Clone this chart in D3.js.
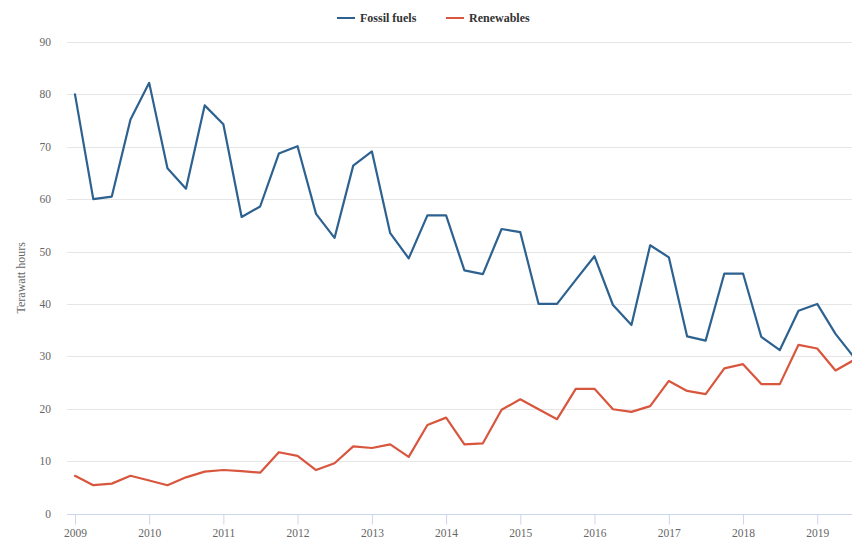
<!DOCTYPE html>
<html>
<head>
<meta charset="utf-8">
<script src="https://cdn.jsdelivr.net/npm/d3@7"></script>
<style>
  html, body { margin: 0; padding: 0; background: #fff; }
  svg { display: block; font-family: "Liberation Serif", "Times New Roman", serif; }
</style>
</head>
<body>
<svg id="chart" width="852" height="538"></svg>
<script>
// Quarterly periods, 2009 Q1 – 2019 Q3
const quarters = [
  "2009-01","2009-04","2009-07","2009-10",
  "2010-01","2010-04","2010-07","2010-10",
  "2011-01","2011-04","2011-07","2011-10",
  "2012-01","2012-04","2012-07","2012-10",
  "2013-01","2013-04","2013-07","2013-10",
  "2014-01","2014-04","2014-07","2014-10",
  "2015-01","2015-04","2015-07","2015-10",
  "2016-01","2016-04","2016-07","2016-10",
  "2017-01","2017-04","2017-07","2017-10",
  "2018-01","2018-04","2018-07","2018-10",
  "2019-01","2019-04","2019-07"
];
const fossilFuels = [
  80.0, 60.0, 60.5, 75.2,
  82.2, 65.9, 62.0, 77.9,
  74.3, 56.6, 58.6, 68.7,
  70.1, 57.2, 52.6, 66.4,
  69.1, 53.5, 48.7, 56.9,
  56.9, 46.4, 45.7, 54.3,
  53.7, 40.0, 40.0, 44.6,
  49.1, 39.8, 36.0, 51.2,
  48.9, 33.8, 33.0, 45.8,
  45.8, 33.7, 31.2, 38.7,
  40.0, 34.3, 29.8
];
const renewables = [
  7.2, 5.4, 5.7, 7.2,
  6.3, 5.4, 6.9, 8.0,
  8.3, 8.1, 7.8, 11.7,
  11.0, 8.3, 9.6, 12.8,
  12.5, 13.2, 10.8, 16.9,
  18.3, 13.2, 13.4, 19.8,
  21.8, 19.9, 18.0, 23.8,
  23.8, 19.9, 19.4, 20.5,
  25.3, 23.4, 22.8, 27.7,
  28.5, 24.7, 24.7, 32.2,
  31.5, 27.3, 29.3
];
const yTicks = [0, 10, 20, 30, 40, 50, 60, 70, 80, 90];
const xTickYears = [2009, 2010, 2011, 2012, 2013, 2014, 2015, 2016, 2017, 2018, 2019];
const seriesNames = ["Fossil fuels", "Renewables"];
const seriesColors = ["#2d6290", "#d9563e"];
const yTitle = "Terawatt hours";

const parse = d3.timeParse("%Y-%m");
const dates = quarters.map(parse);

const svg = d3.select("#chart");
const W = 852, H = 538;
const plot = { left: 67, right: 852, top: 42, bottom: 513.5 };

const x = d3.scaleTime()
  .domain([new Date(2009, 0, 1), new Date(2019, 6, 1)])
  .range([75, 854]);
const y = d3.scaleLinear().domain([0, 90]).range([plot.bottom, plot.top]);

// gridlines
svg.append("g").selectAll("line")
  .data(yTicks.filter(d => d > 0))
  .join("line")
  .attr("x1", plot.left).attr("x2", plot.right)
  .attr("y1", d => Math.round(y(d)) + 0.5).attr("y2", d => Math.round(y(d)) + 0.5)
  .attr("stroke", "#e6e6e6").attr("stroke-width", 1);

// y labels
svg.append("g").selectAll("text")
  .data(yTicks)
  .join("text")
  .attr("x", 51).attr("y", d => y(d) + 4)
  .attr("text-anchor", "end")
  .attr("font-size", 11.5)
  .attr("fill", "#666666")
  .text(d => d);

// y title
svg.append("text")
  .attr("transform", `translate(25, ${(plot.top + plot.bottom) / 2}) rotate(-90)`)
  .attr("text-anchor", "middle")
  .attr("font-size", 12)
  .attr("fill", "#666666")
  .text(yTitle);

// x axis
const xAxisG = svg.append("g")
  .attr("transform", `translate(0, ${Math.round(plot.bottom) + 0.5})`);
xAxisG.append("line")
  .attr("x1", plot.left).attr("x2", plot.right)
  .attr("stroke", "#ccd6eb").attr("stroke-width", 1);
const xAxis = d3.axisBottom(x)
  .tickValues(xTickYears.map(yr => new Date(yr, 0, 1)))
  .tickFormat(d3.timeFormat("%Y"))
  .tickSize(10)
  .tickPadding(4);
xAxisG.call(xAxis);
xAxisG.select(".domain").remove();
xAxisG.selectAll(".tick line").attr("stroke", "#ccd6eb");
xAxisG.selectAll(".tick text")
  .attr("font-family", "Liberation Serif, Times New Roman, serif")
  .attr("font-size", 11.5)
  .attr("fill", "#666666");

// lines
const line = d3.line()
  .x((d, i) => x(dates[i]))
  .y(d => y(d));

[fossilFuels, renewables].forEach((vals, k) => {
  svg.append("path")
    .datum(vals)
    .attr("d", line)
    .attr("fill", "none")
    .attr("stroke", seriesColors[k])
    .attr("stroke-width", 2.2)
    .attr("stroke-linejoin", "round")
    .attr("stroke-linecap", "round");
});

// legend
const legendItems = [
  { name: seriesNames[0], color: seriesColors[0], x: 337 },
  { name: seriesNames[1], color: seriesColors[1], x: 446 }
];
const lg = svg.append("g");
legendItems.forEach(it => {
  lg.append("line")
    .attr("x1", it.x).attr("x2", it.x + 18)
    .attr("y1", 18).attr("y2", 18)
    .attr("stroke", it.color).attr("stroke-width", 2);
  lg.append("text")
    .attr("x", it.x + 23).attr("y", 22)
    .attr("font-size", 12)
    .attr("font-weight", "bold")
    .attr("fill", "#333333")
    .text(it.name);
});
</script>
</body>
</html>
